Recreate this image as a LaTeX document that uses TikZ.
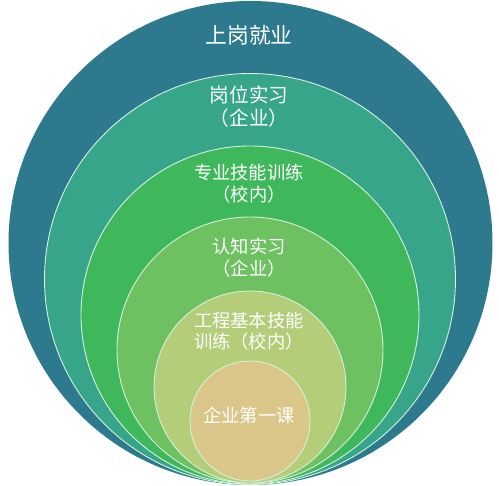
\documentclass[tikz,border=0pt]{standalone}
\usepackage{fontspec}
\newfontfamily\cjk{Noto Sans CJK SC}
\definecolor{ringA}{HTML}{2D7A8E}
\definecolor{ringB}{HTML}{37A58A}
\definecolor{ringC}{HTML}{3FB85C}
\definecolor{ringD}{HTML}{6DC160}
\definecolor{ringE}{HTML}{B3CD78}
\definecolor{ringF}{HTML}{DAC688}
\definecolor{rim}{HTML}{D6F0DC}

\begin{document}
\begin{tikzpicture}[x=1pt,y=-1pt,line width=0.9pt,
  ring/.style={circle,draw=rim,inner sep=0pt},
  label/.style={text=white,align=center,font=\cjk\fontsize{18.3}{21.5}\selectfont}]
  \useasboundingbox[fill=white] (0,0) rectangle (499,486);

  \node[ring,fill=ringA,draw=none,minimum size=484pt] (L1) at (250.5,243) {};
  \node[ring,fill=ringB,minimum size=411pt] (L2) at (250,279) {};
  \node[ring,fill=ringC,minimum size=338pt] (L3) at (250,315) {};
  \node[ring,fill=ringD,minimum size=266pt] (L4) at (250,350) {};
  \node[ring,fill=ringE,minimum size=192pt] (L5) at (250,387) {};
  \node[ring,fill=ringF,minimum size=120pt] (L6) at (250,421) {};

  \node[label,font=\cjk\fontsize{21.7}{24}\selectfont] (T1) at (249,35) {上岗就业};
  \node[label,font=\cjk\fontsize{19.6}{23}\selectfont] (T2) at (249,106.5) {岗位实习\\（企业）};
  \node[label] (T3) at (249,183.5) {专业技能训练\\（校内）};
  \node[label] (T4) at (249,257.5) {认知实习\\（企业）};
  \node[label] (T5) at (249,331) {工程基本技能\\训练（校内）};
  \node[label] (T6) at (249,415) {企业第一课};
\end{tikzpicture}
\end{document}
